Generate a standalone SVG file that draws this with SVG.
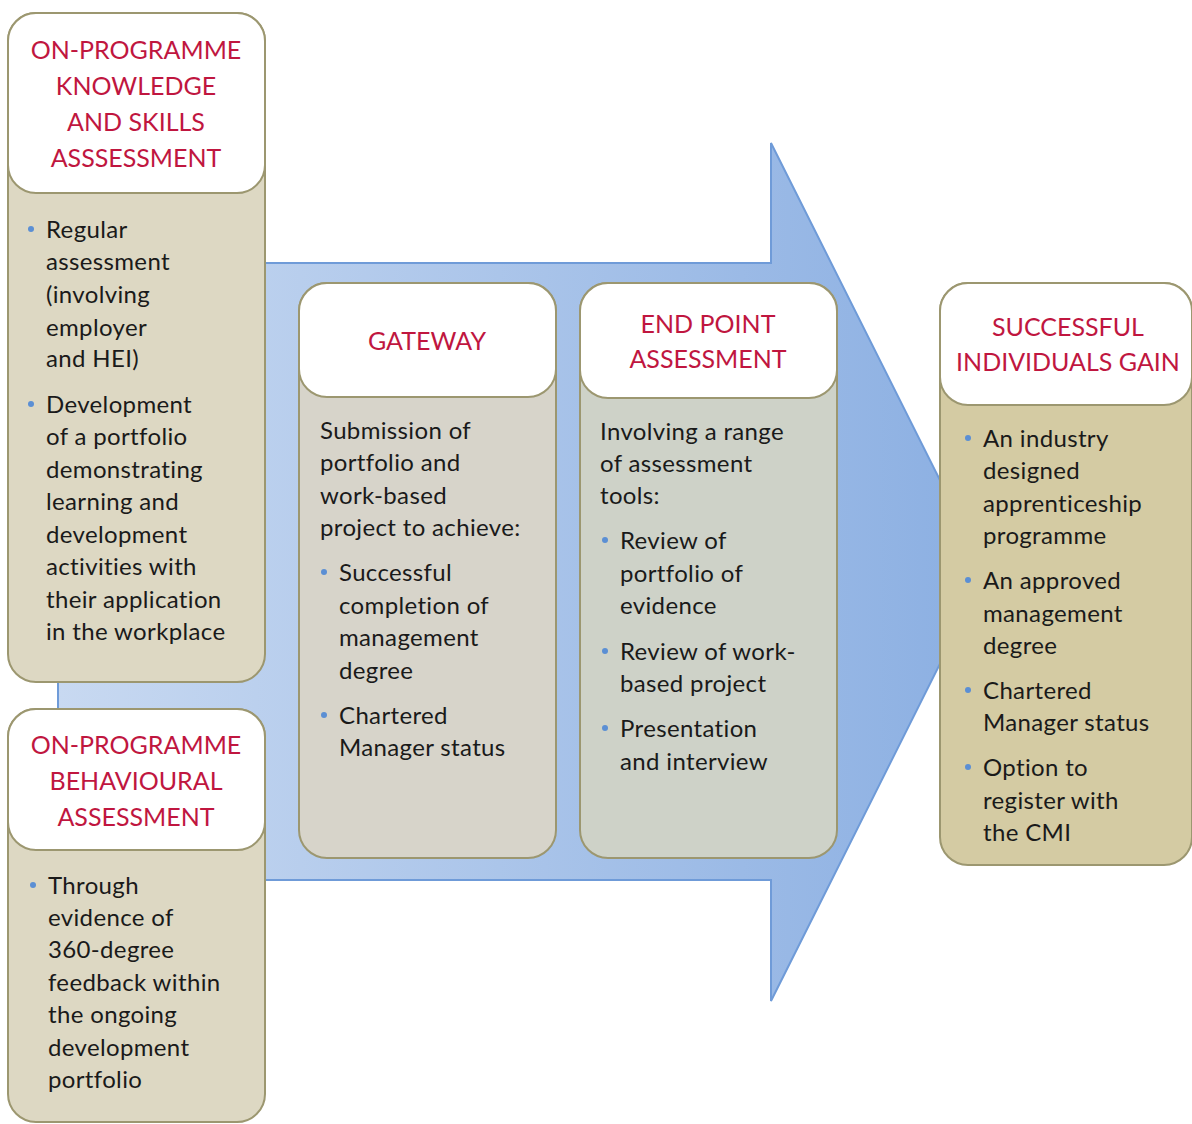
<svg xmlns="http://www.w3.org/2000/svg" width="1192" height="1124" viewBox="0 0 1192 1124">
<defs>
<linearGradient id="ag" x1="0" y1="0" x2="1" y2="0">
<stop offset="0" stop-color="#c8d9f1"/>
<stop offset="1" stop-color="#8bafe2"/>
</linearGradient>
</defs>
<style>
.hd{fill:#ffffff;stroke:#9c9770;stroke-width:2}
.bd{stroke:#9c9770;stroke-width:2}
.t{font-family:Lato,"Open Sans",sans-serif;font-size:24px;letter-spacing:0.35px;fill:#1a1a1a}
.h{font-family:Lato,"Open Sans",sans-serif;font-size:25px;fill:#c0163f;text-anchor:middle}
.b{fill:#5b8fd4}
</style>
<rect width="1192" height="1124" fill="#ffffff"/>
<g id="connectors">
<polygon points="58,263 771,263 771,143 986,572 771,1001 771,880 58,880" fill="url(#ag)" stroke="#6f9bd8" stroke-width="2"/>
</g>
<g id="knowledge">
<rect class="bd" x="8" y="13" width="257" height="669" rx="28" fill="#ddd8c3"/>
<rect class="hd" x="8" y="13" width="257" height="180" rx="28"/>
<text class="h" x="136" y="59">ON-PROGRAMME</text>
<text class="h" x="136" y="95">KNOWLEDGE</text>
<text class="h" x="136" y="131">AND SKILLS</text>
<text class="h" x="136" y="167">ASSSESSMENT</text>
<circle class="b" cx="31" cy="229" r="3"/>
<text class="t" x="46" y="238">Regular</text>
<text class="t" x="46" y="270">assessment</text>
<text class="t" x="46" y="303">(involving</text>
<text class="t" x="46" y="336">employer</text>
<text class="t" x="46" y="367">and HEI)</text>
<circle class="b" cx="31" cy="404" r="3"/>
<text class="t" x="46" y="413">Development</text>
<text class="t" x="46" y="445">of a portfolio</text>
<text class="t" x="46" y="478">demonstrating</text>
<text class="t" x="46" y="510">learning and</text>
<text class="t" x="46" y="543">development</text>
<text class="t" x="46" y="575">activities with</text>
<text class="t" x="46" y="608">their application</text>
<text class="t" x="46" y="640">in the workplace</text>
</g>
<g id="behavioural">
<rect class="bd" x="8" y="709" width="257" height="413" rx="28" fill="#ddd8c3"/>
<rect class="hd" x="8" y="709" width="257" height="141" rx="28"/>
<text class="h" x="136" y="754">ON-PROGRAMME</text>
<text class="h" x="136" y="790">BEHAVIOURAL</text>
<text class="h" x="136" y="826">ASSESSMENT</text>
<circle class="b" cx="33" cy="885" r="3"/>
<text class="t" x="48" y="894">Through</text>
<text class="t" x="48" y="926">evidence of</text>
<text class="t" x="48" y="958">360-degree</text>
<text class="t" x="48" y="991">feedback within</text>
<text class="t" x="48" y="1023">the ongoing</text>
<text class="t" x="48" y="1056">development</text>
<text class="t" x="48" y="1088">portfolio</text>
</g>
<g id="gateway">
<rect class="bd" x="299" y="283" width="257" height="575" rx="28" fill="#d7d4ca"/>
<rect class="hd" x="299" y="283" width="257" height="114" rx="28"/>
<text class="h" x="427" y="350">GATEWAY</text>
<text class="t" x="320" y="439">Submission of</text>
<text class="t" x="320" y="471">portfolio and</text>
<text class="t" x="320" y="504">work-based</text>
<text class="t" x="320" y="536">project to achieve:</text>
<circle class="b" cx="324" cy="572" r="3"/>
<text class="t" x="339" y="581">Successful</text>
<text class="t" x="339" y="614">completion of</text>
<text class="t" x="339" y="646">management</text>
<text class="t" x="339" y="679">degree</text>
<circle class="b" cx="324" cy="715" r="3"/>
<text class="t" x="339" y="724">Chartered</text>
<text class="t" x="339" y="756">Manager status</text>
</g>
<g id="endpoint">
<rect class="bd" x="580" y="283" width="257" height="575" rx="28" fill="#ced2c8"/>
<rect class="hd" x="580" y="283" width="257" height="115" rx="28"/>
<text class="h" x="708" y="333">END POINT</text>
<text class="h" x="708" y="368">ASSESSMENT</text>
<text class="t" x="600" y="440">Involving a range</text>
<text class="t" x="600" y="472">of assessment</text>
<text class="t" x="600" y="504">tools:</text>
<circle class="b" cx="605" cy="540" r="3"/>
<text class="t" x="620" y="549">Review of</text>
<text class="t" x="620" y="582">portfolio of</text>
<text class="t" x="620" y="614">evidence</text>
<circle class="b" cx="605" cy="651" r="3"/>
<text class="t" x="620" y="660">Review of work-</text>
<text class="t" x="620" y="692">based project</text>
<circle class="b" cx="605" cy="728" r="3"/>
<text class="t" x="620" y="737">Presentation</text>
<text class="t" x="620" y="770">and interview</text>
</g>
<g id="successful">
<rect class="bd" x="940" y="283" width="252" height="582" rx="28" fill="#d4cba3"/>
<rect class="hd" x="940" y="283" width="252" height="122" rx="28"/>
<text class="h" x="1068" y="336">SUCCESSFUL</text>
<text class="h" x="1068" y="371">INDIVIDUALS GAIN</text>
<circle class="b" cx="968" cy="438" r="3"/>
<text class="t" x="983" y="447">An industry</text>
<text class="t" x="983" y="479">designed</text>
<text class="t" x="983" y="512">apprenticeship</text>
<text class="t" x="983" y="544">programme</text>
<circle class="b" cx="968" cy="580" r="3"/>
<text class="t" x="983" y="589">An approved</text>
<text class="t" x="983" y="622">management</text>
<text class="t" x="983" y="654">degree</text>
<circle class="b" cx="968" cy="690" r="3"/>
<text class="t" x="983" y="699">Chartered</text>
<text class="t" x="983" y="731">Manager status</text>
<circle class="b" cx="968" cy="767" r="3"/>
<text class="t" x="983" y="776">Option to</text>
<text class="t" x="983" y="809">register with</text>
<text class="t" x="983" y="841">the CMI</text>
</g>
</svg>
